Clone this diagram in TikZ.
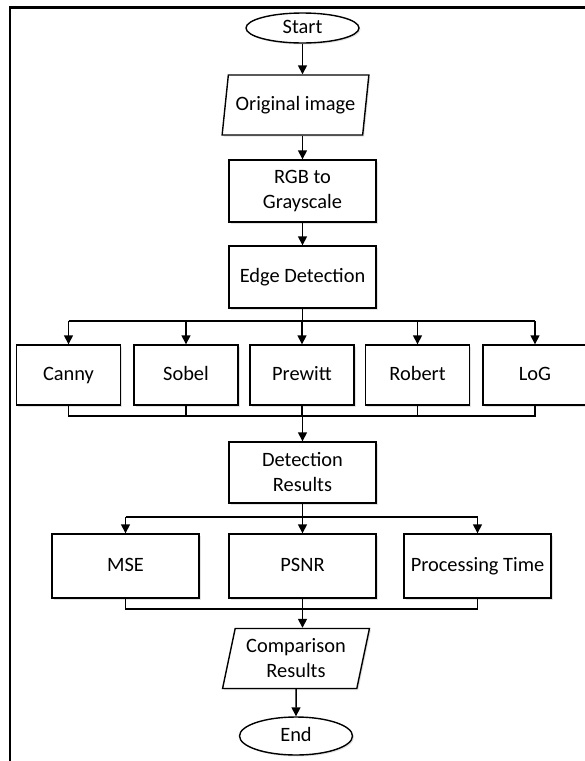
\documentclass[tikz,border=0pt]{standalone}
\usepackage{fontspec}
\setmainfont{Carlito}
\usetikzlibrary{shapes.geometric,arrows.meta,shadows}
\begin{document}
\begin{tikzpicture}[x=1pt,y=-1pt,
  every node/.style={font=\fontsize{20.4}{25}\selectfont, align=center, inner sep=2pt},
  oneline/.style={text height=14.5pt, text depth=4.5pt},
  shade/.style={drop shadow={opacity=0.22, shadow xshift=1.5pt, shadow yshift=-1.5pt}},
  procbox/.style={draw, line width=1.4pt, rectangle, fill=white, shade, minimum width=147, minimum height=62},
  methbox/.style={draw, line width=1.4pt, rectangle, fill=white, shade, minimum width=104, minimum height=60, oneline},
  iobox/.style={draw, line width=1.4pt, trapezium, trapezium left angle=76, trapezium right angle=104,
    trapezium stretches=true, fill=white, shade, minimum width=147, minimum height=60},
  termbox/.style={draw, line width=1.4pt, ellipse, fill=white, shade, minimum width=113, oneline, inner sep=0pt},
  conn/.style={line width=1.5pt},
  arr/.style={line width=1.5pt, -{Triangle[length=9pt,width=9pt]}}
]
\useasboundingbox (0,0) rectangle (585,761);
\clip (0,0) rectangle (585,761);
\fill[white] (0,0) rectangle (585,761);
% frame
\draw[line width=2.3pt] (10,775) -- (10,7.5) -- (600,7.5);

% nodes
\node[termbox, minimum height=30] (start) at (302.5,28) {Start};
\node[iobox, oneline] (orig) at (295.5,105) {Original image};
\node[procbox] (rgb) at (302.5,191) {RGB to\\Grayscale};
\node[procbox, oneline] (edge) at (302.5,277) {Edge Detection};

\node[methbox] (canny) at (68.5,375) {Canny};
\node[methbox] (sobel) at (186,375) {Sobel};
\node[methbox] (prewitt) at (302,375) {Prewitt};
\node[methbox] (robert) at (417.5,375) {Robert};
\node[methbox] (log) at (535,375) {LoG};

\node[procbox, minimum height=61] (det) at (302.5,472.5) {Detection\\Results};

\node[procbox, oneline, minimum height=64] (mse) at (125.5,566) {MSE};
\node[procbox, oneline, minimum height=64] (psnr) at (302.5,566) {PSNR};
\node[procbox, oneline, minimum height=64] (ptime) at (477.5,566) {Processing Time};

\node[iobox] (comp) at (296,658.5) {Comparison\\Results};
\node[termbox, minimum height=38] (end) at (296,736) {End};

% connectors
\draw[arr] (start.south) -- (start.south |- orig.north);
\draw[arr] (rgb.north |- orig.south) -- (rgb.north);
\draw[arr] (rgb.south) -- (edge.north);

\coordinate (b1) at (302.5,321);
\draw[conn] (edge.south) -- (b1);
\draw[conn] (canny.north |- b1) -- (log.north |- b1);
\foreach \n in {canny,sobel,prewitt,robert,log}
  \draw[arr] (\n.north |- b1) -- (\n.north);

\coordinate (c1) at (302.5,416);
\draw[conn] (canny.south) -- (canny.south |- c1) -- (log.south |- c1) -- (log.south);
\foreach \n in {sobel,prewitt,robert}
  \draw[conn] (\n.south) -- (\n.south |- c1);
\draw[arr] (c1) -- (det.north);

\coordinate (b2) at (302.5,517);
\draw[conn] (det.south) -- (b2);
\draw[conn] (mse.north |- b2) -- (ptime.north |- b2);
\foreach \n in {mse,psnr,ptime}
  \draw[arr] (\n.north |- b2) -- (\n.north);

\coordinate (c2) at (302.5,609);
\draw[conn] (mse.south) -- (mse.south |- c2) -- (ptime.south |- c2) -- (ptime.south);
\draw[conn] (psnr.south) -- (c2);
\draw[arr] (c2) -- (c2 |- comp.north);
\draw[arr] (comp.south) -- (end.north);
\end{tikzpicture}
\end{document}
